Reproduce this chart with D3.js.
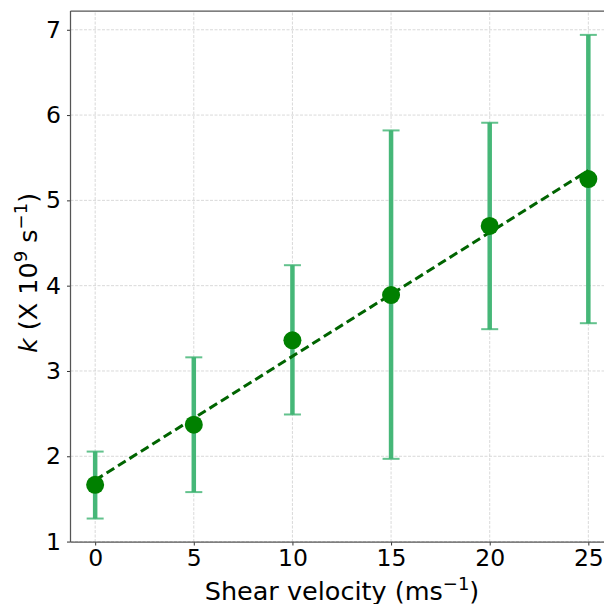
<!DOCTYPE html>
<html>
<head>
<meta charset="utf-8">
<script src="https://cdn.jsdelivr.net/npm/d3@7"></script>
<style>
  body { margin: 0; background: #fff; }
  svg { display: block; font-family: "DejaVu Sans", sans-serif; }
</style>
</head>
<body>
<div id="chart"></div>
<script>
// shear velocity (m/s) and rate constant k (x 10^9 s^-1)
var velocity = [0, 5, 10, 15, 20, 25];
var kMean = [1.665, 2.37, 3.36, 3.89, 4.70, 5.25];
var kLow = [1.27, 1.58, 2.49, 1.97, 3.49, 3.56];
var kHigh = [2.055, 3.16, 4.24, 5.82, 5.91, 6.94];
// fitted line end points
var fitX = [0, 25];
var fitY = [1.72, 5.35];
var xTicks = [0, 5, 10, 15, 20, 25];
var yTicks = [1, 2, 3, 4, 5, 6, 7];

var width = 604, height = 604;
var margin = { top: 11, right: -9, bottom: 62, left: 70.5 };

var svg = d3
  .select("#chart")
  .append("svg")
  .attr("width", width)
  .attr("height", height);

var x = d3
  .scaleLinear()
  .domain([-1.25, 26.25])
  .range([margin.left, width - margin.right]);

var y = d3
  .scaleLinear()
  .domain([0.995, 7.22])
  .range([height - margin.bottom, margin.top]);

var pts = velocity.map(function (v, i) {
  return { x: v, y: kMean[i], lo: kLow[i], hi: kHigh[i] };
});

// grid
var grid = svg.append("g").attr("class", "grid");
grid
  .selectAll(".gx")
  .data(xTicks)
  .enter()
  .append("line")
  .attr("x1", function (d) { return x(d); })
  .attr("x2", function (d) { return x(d); })
  .attr("y1", y.range()[0])
  .attr("y2", y.range()[1])
  .attr("stroke", "#cfcfcf")
  .attr("stroke-width", 0.8)
  .attr("stroke-dasharray", "3,1.5");
grid
  .selectAll(".gy")
  .data(yTicks)
  .enter()
  .append("line")
  .attr("x1", x.range()[0])
  .attr("x2", x.range()[1])
  .attr("y1", function (d) { return y(d); })
  .attr("y2", function (d) { return y(d); })
  .attr("stroke", "#cfcfcf")
  .attr("stroke-width", 0.8)
  .attr("stroke-dasharray", "3,1.5");

// error bars
var eb = svg.append("g").attr("class", "errorbars");
eb.selectAll(".bar")
  .data(pts)
  .enter()
  .append("line")
  .attr("x1", function (d) { return x(d.x); })
  .attr("x2", function (d) { return x(d.x); })
  .attr("y1", function (d) { return y(d.lo); })
  .attr("y2", function (d) { return y(d.hi); })
  .attr("stroke", "#3cb371")
  .attr("stroke-opacity", 0.95)
  .attr("stroke-width", 4.5);

var caps = [];
pts.forEach(function (d) {
  caps.push({ x: d.x, v: d.lo });
  caps.push({ x: d.x, v: d.hi });
});
eb.selectAll(".cap")
  .data(caps)
  .enter()
  .append("line")
  .attr("x1", function (d) { return x(d.x) - 8.5; })
  .attr("x2", function (d) { return x(d.x) + 8.5; })
  .attr("y1", function (d) { return y(d.v); })
  .attr("y2", function (d) { return y(d.v); })
  .attr("stroke", "#3cb371")
  .attr("stroke-opacity", 0.8)
  .attr("stroke-width", 2);

// fit line
var line = d3
  .line()
  .x(function (d) { return x(d[0]); })
  .y(function (d) { return y(d[1]); });
svg
  .append("path")
  .attr("d", line(d3.zip(fitX, fitY)))
  .attr("fill", "none")
  .attr("stroke", "#006400")
  .attr("stroke-width", 3)
  .attr("stroke-dasharray", "9,4.5");

// points
svg
  .selectAll(".pt")
  .data(pts)
  .enter()
  .append("circle")
  .attr("cx", function (d) { return x(d.x); })
  .attr("cy", function (d) { return y(d.y); })
  .attr("r", 9)
  .attr("fill", "#008000");

// axes
var xAxis = svg
  .append("g")
  .attr("transform", "translate(0," + y.range()[0] + ")")
  .call(d3.axisBottom(x).tickValues(xTicks).tickFormat(d3.format("d")).tickSize(3.5).tickPadding(4));
var yAxis = svg
  .append("g")
  .attr("transform", "translate(" + x.range()[0] + ",0)")
  .call(d3.axisLeft(y).tickValues(yTicks).tickFormat(d3.format("d")).tickSize(3.5).tickPadding(6));

[xAxis, yAxis].forEach(function (a) {
  a.select(".domain").remove();
  a.selectAll(".tick line").attr("stroke", "#333").attr("stroke-width", 1);
  a.selectAll(".tick text")
    .attr("fill", "#000")
    .style("font-size", "23.5px")
    .style("font-family", "DejaVu Sans");
});

// spines: left, bottom, top
var spine = svg.append("g").attr("stroke", "#555").attr("stroke-width", 1.25);
spine.append("line")
  .attr("x1", x.range()[0]).attr("x2", x.range()[0])
  .attr("y1", y.range()[0]).attr("y2", y.range()[1]);
spine.append("line")
  .attr("x1", x.range()[0]).attr("x2", x.range()[1])
  .attr("y1", y.range()[0]).attr("y2", y.range()[0]);
spine.append("line")
  .attr("x1", x.range()[0]).attr("x2", x.range()[1])
  .attr("y1", y.range()[1]).attr("y2", y.range()[1]);

// x label
var xl = svg
  .append("text")
  .attr("x", 342)
  .attr("y", 600)
  .attr("text-anchor", "middle")
  .style("font-size", "25.5px")
  .attr("fill", "#000");
xl.append("tspan").text("Shear velocity (ms");
xl.append("tspan").attr("dy", -10).style("font-size", "18px").text("\u22121");
xl.append("tspan").attr("dy", 10).text(")");

// y label
var yl = svg
  .append("text")
  .attr("transform", "translate(37,273) rotate(-90)")
  .attr("text-anchor", "middle")
  .style("font-size", "25.5px")
  .attr("fill", "#000");
yl.append("tspan").style("font-style", "italic").text("k");
yl.append("tspan").text(" (X 10");
yl.append("tspan").attr("dy", -10).style("font-size", "18px").text("9");
yl.append("tspan").attr("dy", 10).text(" s");
yl.append("tspan").attr("dy", -10).style("font-size", "18px").text("\u22121");
yl.append("tspan").attr("dy", 10).text(")");
</script>
</body>
</html>
